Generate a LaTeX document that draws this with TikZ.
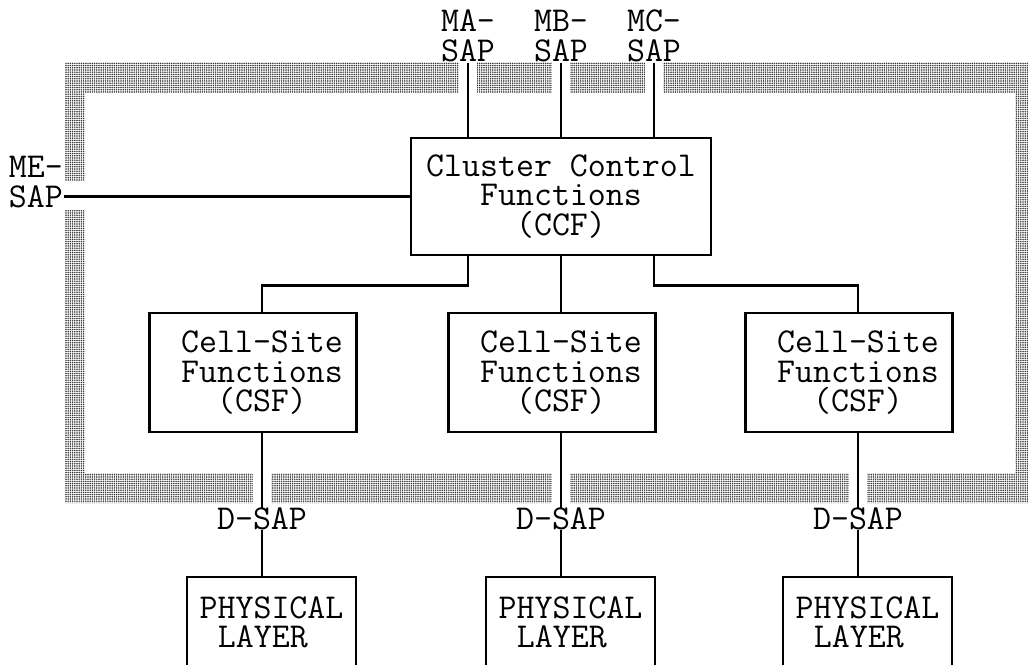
\documentclass[tikz,border=0pt]{standalone}
\usepackage{fontspec}
\usetikzlibrary{positioning,patterns.meta}

\tikzset{
  funcbox/.style={draw, line width=2.6pt, inner sep=1pt},
  lbl/.style={font=\ttfamily\fontsize{34.9}{29.5}\selectfont, inner sep=1pt},
  lbls/.style={lbl, align=center},
  conn/.style={line width=2.6pt},
  band/.style={pattern={Dots[distance=2.2pt,radius=0.85pt]}, pattern color=black!80},
}

\begin{document}
\begin{tikzpicture}[x=1pt,y=-1pt]
        \useasboundingbox (0,0) rectangle (1028,664);
        % shaded frame with openings for the SAP lines
        \fill[band, even odd rule] (65,62) rectangle (1040,503) (85,93) rectangle (1015,473);
        \foreach \x in {468,561,654} \fill[white] (\x-9,59) rectangle (\x+9,96);
        \foreach \x in {262,561,858} \fill[white] (\x-9,470) rectangle (\x+9,506);
        \fill[white] (62,181) rectangle (88,210);
        % control block
        \node[funcbox, lbls, minimum width=300, minimum height=117] (ccf) at (561,196.5) {Cluster Control\\Functions\\(CCF)};
        % management SAPs
        \node[lbls] (sapa) at (468,36) {MA-\\SAP};
        \node[lbls] (sapb) at (561,36) {MB-\\SAP};
        \node[lbls] (sapc) at (654,36) {MC-\\SAP};
        \node[lbls, anchor=east] (sape) at (64,182) {ME-\\SAP};
        % cell sites, D-SAPs and physical layers
        \foreach \i/\x in {1/262,2/561,3/858} {
          \node[funcbox, minimum width=207, minimum height=119] (csf\i) at (\x-9,372.5) {};
          \node[lbls] (csft\i) at (\x,373) {Cell-Site\\Functions\\(CSF)};
          \node[lbl, text height=20pt, text depth=0pt] (dsap\i) at (\x,519) {D-SAP};
          \node[funcbox, lbls, align=left, minimum width=169, minimum height=91] (phy\i) at (\x+9.5,622.5) {PHYSICAL\\\hspace*{0.525em}LAYER};
        }
        % connectors
        \foreach \i in {a,b,c} \draw[conn] (sap\i.south) -- (sap\i.south |- ccf.north);
        \draw[conn] (ccf.west -| sape.east) -- (ccf.west);
        \draw[conn] (ccf.south -| sapa) -- ++(0,29) -| (csf1.north -| csft1);
        \draw[conn] (ccf.south -| sapb) -- (csf2.north -| csft2);
        \draw[conn] (ccf.south -| sapc) -- ++(0,29) -| (csf3.north -| csft3);
        \foreach \i in {1,2,3} {
          \draw[conn] (csf\i.south -| dsap\i) -- (dsap\i.north);
          \draw[conn] (dsap\i.south) -- (phy\i.north -| dsap\i);
        }
\end{tikzpicture}
\end{document}
